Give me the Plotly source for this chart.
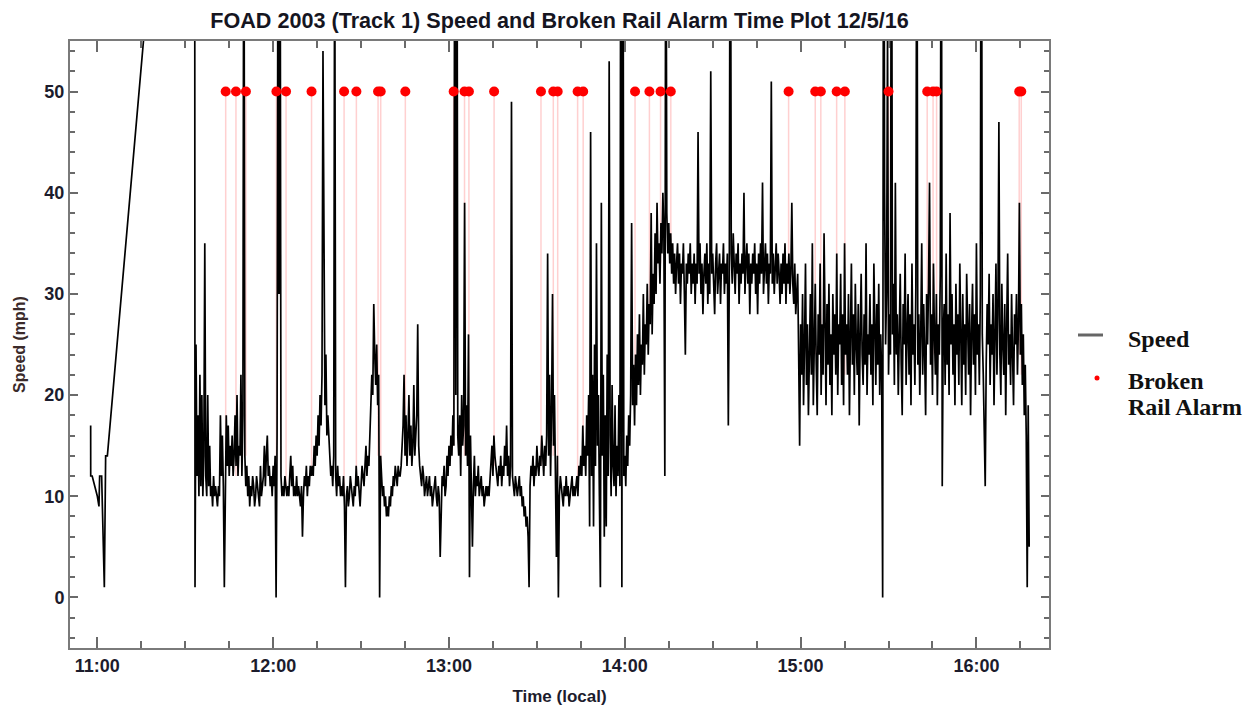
import pandas as pd
import plotly.graph_objects as go

DATE = "2016-12-05 "

# Early segment (explicit readings)
early_times = ["10:57:43", "10:57:44", "10:58:14", "10:59:11", "11:00:00", "11:00:33",
               "11:00:47", "11:01:28", "11:02:23", "11:02:50", "11:03:25", "11:33:10"]
early_speed = [17, 12, 12, 11, 10, 9, 12, 12, 1, 14, 14, 113]

# Main segment: readings every 20 s starting 11:33:20 (one row = 10 minutes)
main_start = "11:33:20"
main_step = "20s"
speed_rows = [
    [1, 25, 12, 18, 10, 22, 11, 20, 10, 14, 35, 12, 10, 20, 11, 15, 10, 11, 9, 12, 10, 11, 10, 9, 11, 10, 18, 12, 16, 11],
    [1, 14, 18, 13, 17, 12, 15, 13, 16, 12, 14, 18, 13, 20, 12, 15, 14, 22, 12, 18, 80, 14, 11, 13, 10, 12, 9, 11, 10, 12],
    [11, 9, 10, 12, 11, 10, 9, 13, 10, 11, 12, 15, 11, 14, 16, 12, 13, 11, 12, 10, 13, 11, 14, 0, 16, 75, 30, 80, 12, 10],
    [11, 10, 12, 11, 10, 11, 10, 12, 14, 11, 13, 10, 11, 10, 12, 10, 11, 10, 9, 11, 6, 10, 12, 11, 13, 10, 12, 11, 13, 12],
    [13, 12, 15, 13, 16, 14, 18, 15, 20, 17, 22, 54, 28, 19, 24, 16, 18, 15, 14, 12, 13, 11, 14, 70, 12, 10, 13, 11, 12, 10],
    [11, 10, 12, 9, 1, 10, 11, 9, 10, 12, 11, 10, 9, 11, 10, 13, 11, 12, 10, 9, 11, 13, 12, 11, 13, 15, 12, 14, 13, 16],
    [18, 22, 20, 29, 24, 21, 25, 19, 22, 0, 14, 12, 10, 11, 9, 10, 8, 9, 8, 10, 9, 11, 10, 12, 11, 13, 12, 11, 13, 12],
    [12, 13, 15, 17, 22, 14, 18, 13, 16, 20, 14, 17, 13, 15, 21, 14, 16, 18, 27, 15, 13, 12, 11, 13, 12, 10, 11, 12, 10, 11],
    [12, 10, 11, 9, 10, 11, 12, 10, 9, 11, 10, 4, 10, 12, 11, 13, 10, 11, 14, 12, 15, 13, 16, 14, 18, 15, 85, 20, 90, 16],
    [14, 18, 12, 20, 15, 17, 39, 14, 19, 13, 26, 2, 16, 12, 5, 11, 14, 10, 12, 11, 13, 10, 11, 12, 10, 11, 9, 10, 11, 10],
    [11, 10, 12, 13, 15, 12, 16, 14, 13, 12, 11, 13, 12, 14, 11, 13, 12, 15, 13, 17, 12, 14, 11, 13, 49, 12, 11, 10, 12, 11],
    [10, 11, 12, 10, 11, 9, 10, 8, 9, 7, 8, 6, 1, 11, 13, 12, 14, 11, 13, 12, 15, 13, 12, 14, 13, 16, 14, 12, 15, 13],
    [16, 34, 14, 22, 12, 18, 30, 15, 20, 11, 4, 14, 0, 10, 12, 11, 10, 9, 11, 10, 12, 10, 11, 9, 10, 11, 12, 10, 11, 10],
    [11, 12, 10, 13, 12, 14, 12, 17, 13, 15, 12, 18, 14, 20, 7, 46, 12, 22, 7, 25, 13, 35, 15, 20, 10, 1, 39, 14, 22, 6],
    [18, 7, 24, 12, 53, 16, 10, 21, 13, 11, 19, 10, 15, 12, 20, 11, 85, 1, 90, 12, 14, 11, 16, 13, 18, 15, 20, 37, 19, 23],
    [17, 24, 19, 26, 21, 28, 20, 25, 23, 30, 22, 27, 25, 31, 24, 29, 27, 38, 26, 32, 29, 36, 30, 39, 33, 35, 31, 37, 34, 40],
    [36, 12, 80, 38, 34, 37, 33, 36, 32, 35, 31, 34, 30, 33, 35, 31, 34, 29, 33, 32, 35, 30, 24, 33, 31, 34, 32, 35, 30, 33],
    [31, 34, 29, 33, 31, 46, 32, 35, 30, 33, 28, 32, 34, 31, 35, 29, 33, 30, 52, 32, 34, 31, 28, 33, 35, 30, 32, 34, 29, 33],
    [32, 35, 30, 33, 31, 34, 17, 32, 85, 34, 31, 36, 33, 30, 34, 32, 35, 29, 33, 31, 34, 32, 40, 30, 33, 35, 31, 34, 28, 33],
    [31, 34, 32, 35, 30, 33, 28, 34, 31, 35, 32, 41, 30, 33, 35, 31, 34, 29, 33, 32, 51, 31, 34, 30, 33, 35, 31, 34, 32, 29],
    [33, 30, 34, 31, 35, 29, 33, 31, 34, 30, 32, 39, 31, 29, 33, 28, 30, 32, 24, 15, 27, 22, 30, 19, 25, 33, 21, 27, 18, 24],
    [30, 22, 35, 19, 26, 31, 23, 18, 28, 24, 33, 20, 27, 22, 36, 25, 19, 29, 23, 31, 21, 26, 18, 30, 24, 28, 22, 34, 20, 27],
    [25, 32, 21, 28, 19, 35, 24, 27, 22, 30, 18, 26, 33, 23, 28, 20, 31, 25, 22, 29, 17, 26, 32, 24, 21, 28, 23, 35, 20, 26],
    [24, 30, 22, 27, 19, 33, 25, 21, 29, 23, 31, 20, 26, 22, 0, 90, 40, 25, 30, 56, 22, 28, 24, 85, 26, 31, 21, 41, 24, 28],
    [20, 27, 32, 23, 18, 29, 25, 34, 21, 26, 30, 22, 28, 19, 33, 24, 27, 21, 31, 80, 23, 28, 20, 26, 35, 22, 29, 24, 18, 30],
    [25, 31, 41, 23, 28, 20, 33, 26, 22, 30, 19, 27, 24, 32, 85, 11, 26, 29, 21, 34, 23, 28, 20, 38, 25, 30, 22, 27, 19, 31],
    [24, 28, 21, 33, 26, 19, 30, 23, 27, 20, 32, 25, 22, 29, 18, 26, 31, 23, 28, 20, 35, 24, 27, 21, 30, 90, 26, 22, 18, 11],
    [23, 29, 25, 32, 21, 27, 24, 30, 19, 26, 33, 22, 28, 47, 24, 20, 31, 25, 22, 29, 18, 27, 34, 23, 26, 21, 30, 24, 19, 28],
    [25, 30, 22, 27, 39, 24, 29, 21, 26, 18, 23, 16, 1, 19, 5],
]

# Broken rail alarms (plotted at level 50) and speed at alarm time
alarm_times = ["11:43:48", "11:47:18", "11:50:42", "12:01:06", "12:04:24", "12:13:06",
               "12:24:12", "12:28:24", "12:35:48", "12:36:42", "12:45:06", "13:01:36",
               "13:05:18", "13:06:48", "13:15:24", "13:31:24", "13:35:36", "13:37:06",
               "13:43:54", "13:45:48", "14:03:30", "14:08:24", "14:12:12", "14:15:42",
               "14:55:54", "15:05:00", "15:06:54", "15:12:18", "15:15:06", "15:30:00",
               "15:43:12", "15:45:12", "15:46:24", "16:14:36", "16:15:18"]
alarm_level = 50
alarm_speed = [14, 12, 14, 12, 11, 13, 10, 11, 14, 12, 14, 15, 14, 13, 13, 13, 14, 12,
               12, 13, 20, 27, 33, 33, 31, 24, 23, 25, 22, 25, 25, 24, 23, 24, 22]

x_ticks_start = "11:00"
x_range = ["10:50:40", "16:24:46"]
y_range = [-5, 55]

legend_speed_label = "Speed"
legend_alarm_label = ["Broken", "Rail Alarm"]

# ---- build ----
main_speed = [v for row in speed_rows for v in row]
main_times = pd.date_range(DATE + main_start, periods=len(main_speed), freq=main_step)
speed_x = [pd.Timestamp(DATE + t) for t in early_times] + list(main_times)
speed_y = early_speed + main_speed

stem_x, stem_y = [], []
for t, s in zip(alarm_times, alarm_speed):
    ts = pd.Timestamp(DATE + t)
    stem_x += [ts, ts, None]
    stem_y += [alarm_level, s, None]
alarm_x = [pd.Timestamp(DATE + t) for t in alarm_times]

fig = go.Figure()
fig.add_trace(go.Scatter(x=stem_x, y=stem_y, mode="lines",
                         line=dict(color="rgba(255,120,120,0.35)", width=1.5),
                         showlegend=False, hoverinfo="skip"))
fig.add_trace(go.Scatter(x=speed_x, y=speed_y, mode="lines",
                         line=dict(color="#000000", width=1.7),
                         showlegend=False, name="Speed"))
fig.add_trace(go.Scatter(x=alarm_x, y=[alarm_level] * len(alarm_x), mode="markers",
                         marker=dict(color="#ff0000", size=10),
                         showlegend=False, name="Broken Rail Alarm"))

# Plot area geometry (pixels) used to place the legend drawn outside the axes
L, R, T, B = 70, 1049, 41, 648
W, H = 1254, 711
def px(xp):
    return (xp - L) / (R - L)
def py(yp):
    return (B - yp) / (B - T)

# Legend: line sample, dot, texts
fig.add_shape(type="line", xref="paper", yref="paper",
              x0=px(1078), x1=px(1103), y0=py(335), y1=py(335),
              line=dict(color="#666666", width=3))
fig.add_shape(type="circle", xref="paper", yref="paper",
              x0=px(1094.5), x1=px(1099.5), y0=py(380.5), y1=py(375.5),
              fillcolor="#ff0000", line=dict(width=0))
legend_font = dict(family="Liberation Serif, Times New Roman", size=24, color="#111111", weight="bold")
for text, yy in [(legend_speed_label, 339), (legend_alarm_label[0], 381), (legend_alarm_label[1], 407)]:
    fig.add_annotation(text=text, xref="paper", yref="paper", x=px(1126), y=py(yy),
                       xanchor="left", yanchor="middle", showarrow=False, font=legend_font)

tick_font = dict(family="Liberation Sans, Arial", size=18, color="#1c1c2c", weight="bold")
axis_common = dict(showline=True, linecolor="#7a7a7a", linewidth=2, mirror="ticks",
                   ticks="inside", tickcolor="#6a6a6a", tickwidth=1.5, automargin=False,
                   showgrid=False, zeroline=False, tickfont=tick_font)

fig.update_layout(
    width=W, height=H,
    margin=dict(l=L, r=W - R, t=T, b=H - B),
    paper_bgcolor="white", plot_bgcolor="white",
    title=dict(text="<b>FOAD 2003 (Track 1) Speed and Broken Rail Alarm Time Plot 12/5/16</b>",
               x=0.5, xref="paper", xanchor="center", y=1 - 20 / H, yanchor="middle",
               font=dict(family="Liberation Sans, Arial", size=21.6, color="#15151f")),
    showlegend=False,
)
fig.update_xaxes(**axis_common,
                 type="date", range=[DATE + x_range[0], DATE + x_range[1]],
                 tick0=DATE + x_ticks_start, dtick=3600000, tickformat="%H:%M", ticklen=11,
                 minor=dict(dtick=900000, ticks="inside", ticklen=7, tickcolor="#6a6a6a", tickwidth=1.5),
                 title=dict(text="<b>Time (local)</b>", standoff=16,
                            font=dict(family="Liberation Sans, Arial", size=17, color="#1c1c2c")))
fig.update_yaxes(**axis_common,
                 range=y_range, dtick=10, tick0=0, ticklen=8,
                 minor=dict(dtick=2, ticks="inside", ticklen=5, tickcolor="#6a6a6a", tickwidth=1.5),
                 title=dict(text="<b>Speed (mph)</b>", standoff=15,
                            font=dict(family="Liberation Sans, Arial", size=16, color="#3a2a2a")))

fig.write_html("out.html", config={"displayModeBar": False},
               post_script="document.body.style.margin='0px';")
